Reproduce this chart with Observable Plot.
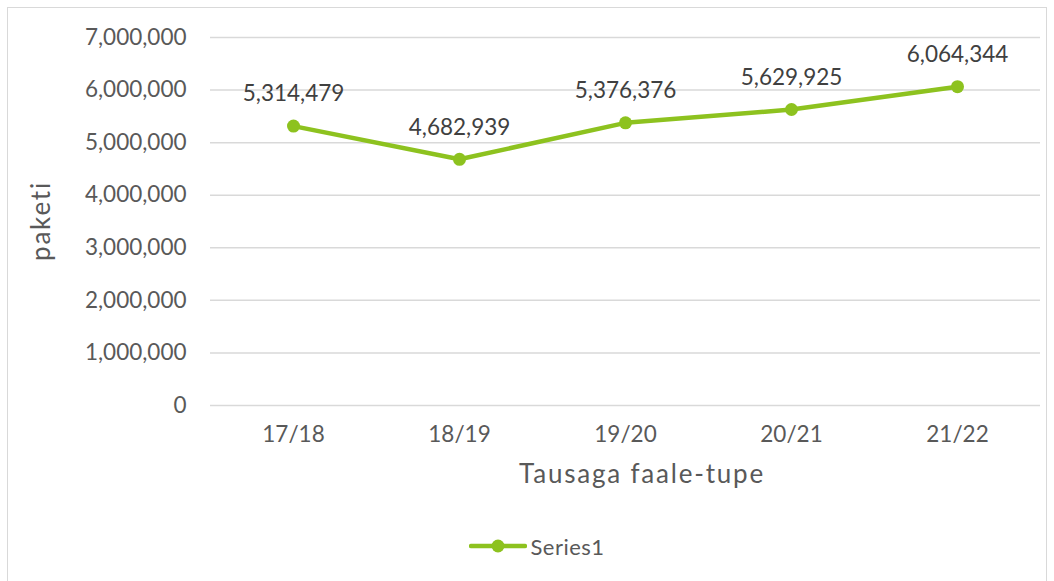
<!DOCTYPE html>
<html>
<head>
<meta charset="utf-8">
<script src="https://cdn.jsdelivr.net/npm/d3@7"></script>
<script src="https://cdn.jsdelivr.net/npm/@observablehq/plot@0.6"></script>
<style>
  html, body { margin: 0; padding: 0; background: #fff; }
  #wrap { position: relative; width: 1054px; height: 581px; overflow: hidden; font-family: Lato, "Open Sans", sans-serif; color: #595959; }
  #frame { position: absolute; left: 7px; top: 7px; width: 1040px; height: 600px; border: 1.5px solid #d9d9d9; box-sizing: border-box; }
  #chart { position: absolute; left: 0; top: 0; }
  .title { position: absolute; font-size: 26px; letter-spacing: 1.8px; white-space: nowrap; line-height: 1; }
  #xtitle { left: 642px; top: 473px; transform: translate(-50%, -50%); }
  #ytitle { left: 40px; top: 221px; transform: translate(-50%, -50%) rotate(-90deg); }
  #legend { position: absolute; left: 10px; top: 531px; width: 1054px; display: flex; justify-content: center; align-items: center; font-size: 22px; letter-spacing: 0.5px; }
  #legend svg { display: block; margin-right: 3px; }
</style>
</head>
<body>
<div id="wrap">
  <div id="frame"></div>
  <div id="chart"></div>
  <div id="xtitle" class="title"></div>
  <div id="ytitle" class="title"></div>
  <div id="legend"></div>
</div>
<script>
const seasons = ["17/18", "18/19", "19/20", "20/21", "21/22"];
const packets = [5314479, 4682939, 5376376, 5629925, 6064344];
const yTicks = [0, 1000000, 2000000, 3000000, 4000000, 5000000, 6000000, 7000000];
const seriesName = "Series1";
const xTitle = "Tausaga faale-tupe";
const yTitle = "paketi";

const data = seasons.map((s, i) => ({season: s, value: packets[i]}));
const green = "#8dc21f";
const fmt = d3.format(",");

const chart = Plot.plot({
  width: 1054,
  height: 500,
  marginLeft: 210,
  marginRight: 14,
  marginTop: 37,
  marginBottom: 95,
  style: {fontFamily: "Lato, 'Open Sans', sans-serif", fontSize: "22.5px", color: "#595959", background: "transparent"},
  x: {type: "band", domain: seasons, padding: 0},
  y: {domain: [0, 7000000]},
  marks: [
    Plot.ruleY(yTicks, {stroke: "#d9d9d9", strokeWidth: 1.5, strokeOpacity: 1}),
    Plot.axisY({ticks: yTicks, tickFormat: fmt, tickSize: 0, tickPadding: 24, label: null, fill: "#595959", fontSize: 22.5}),
    Plot.axisX({tickSize: 0, tickPadding: 21, label: null, fill: "#595959", fontSize: 22.5}),
    Plot.line(data, {x: "season", y: "value", stroke: green, strokeWidth: 4.5, strokeLinejoin: "round"}),
    Plot.dot(data, {x: "season", y: "value", r: 6.5, fill: green, stroke: "none"}),
    Plot.text(data, {x: "season", y: "value", text: d => fmt(d.value), dy: -32, fill: "#404040", fontSize: 22.5})
  ]
});
document.getElementById("chart").appendChild(chart);
document.getElementById("xtitle").textContent = xTitle;
document.getElementById("ytitle").textContent = yTitle;

const legend = document.getElementById("legend");
const sw = d3.create("svg").attr("width", 58).attr("height", 30);
sw.append("line").attr("x1", 2).attr("x2", 56).attr("y1", 15).attr("y2", 15).attr("stroke", green).attr("stroke-width", 4.5).attr("stroke-linecap", "round");
sw.append("circle").attr("cx", 29).attr("cy", 15).attr("r", 6.5).attr("fill", green);
legend.appendChild(sw.node());
const lt = document.createElement("span");
lt.textContent = seriesName;
legend.appendChild(lt);
</script>
</body>
</html>
